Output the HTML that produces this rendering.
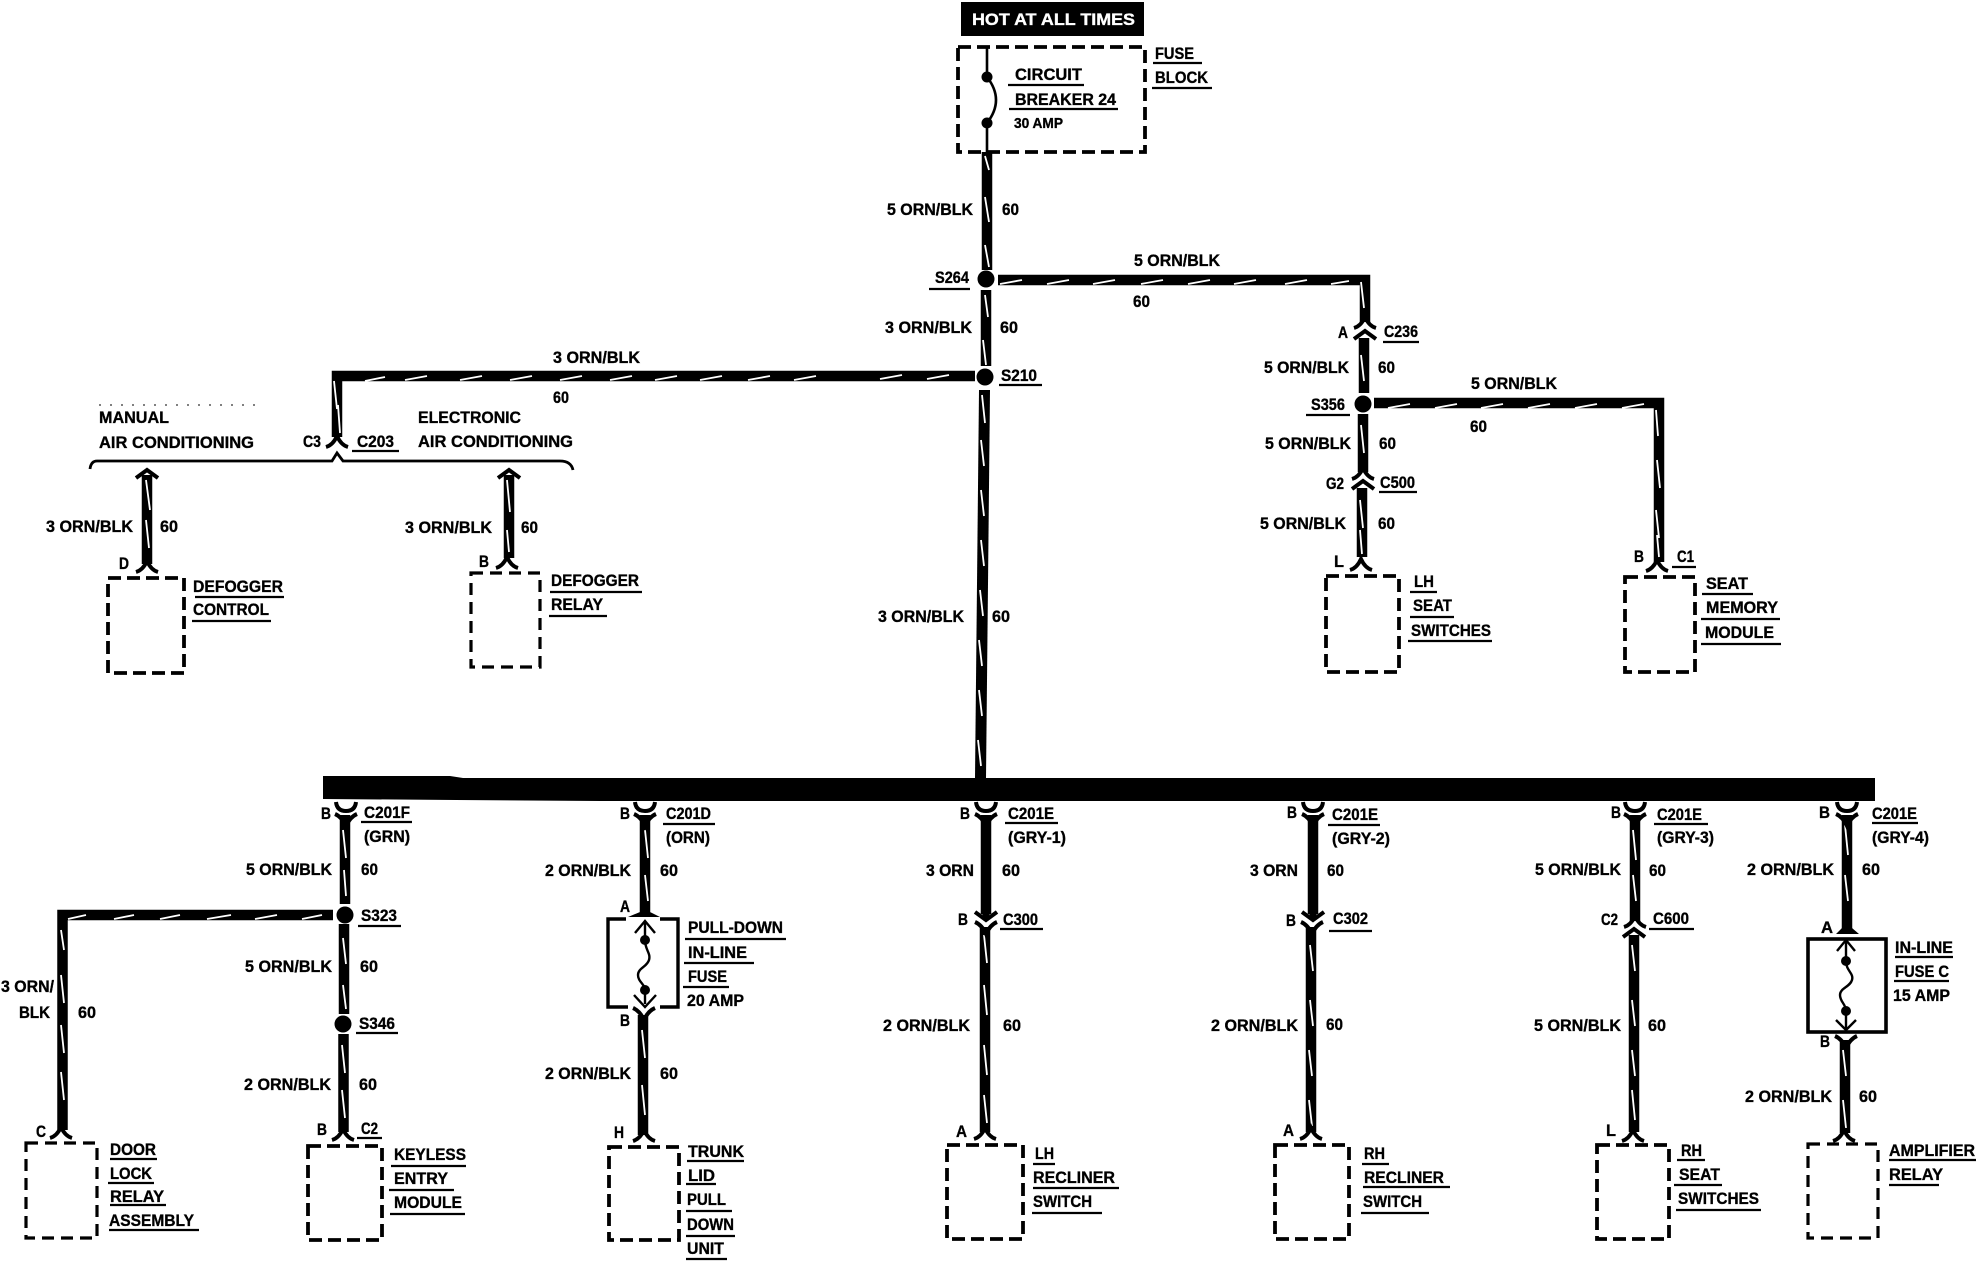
<!DOCTYPE html>
<html><head><meta charset="utf-8"><title>Wiring diagram</title>
<style>
html,body{margin:0;padding:0;background:#fff}
svg{display:block}
text{font-family:"Liberation Sans",sans-serif;font-weight:bold;font-size:17px;fill:#000;stroke:#000;stroke-width:.35}
.w{fill:none;stroke:#000;stroke-width:10.500}
.s{fill:none;stroke:#fff;stroke-width:1.800}
.u{fill:none;stroke:#000;stroke-width:2.200}
.d{fill:none;stroke:#000;stroke-width:3.800;stroke-dasharray:13 6}
.dt{fill:none;stroke:#000;stroke-width:3.200;stroke-dasharray:12 7}
.c{fill:none;stroke:#000;stroke-width:4}
.f{fill:#000}
</style></head><body>
<svg width="1976" height="1280" viewBox="0 0 1976 1280" xmlns="http://www.w3.org/2000/svg">
<defs>
<path id="fd" class="c" d="M-11 0Q-4-2 0-11Q4-2 11 0"/>
<path id="fv" class="c" d="M-11-4Q-4-1 0 8Q4-1 11-4"/>
<path id="cup" class="c" d="M-10 0Q-9 9 0 9Q9 9 10 0"/>
<path id="au" class="c" d="M-11 8L0 0L11 8"/>
<path id="ad" class="c" d="M-11-8L0 0L11-8"/>
</defs>

<!-- top -->
<rect x="961" y="2" width="183" height="34" class="f"/>
<text x="972" y="25" textLength="163" lengthAdjust="spacingAndGlyphs" style="fill:#fff;stroke:#fff">HOT AT ALL TIMES</text>
<rect x="958" y="47" width="187" height="105" class="d"/>
<path class="c" style="stroke-width:2.600" d="M987 47V77Q1005 100 987 123V152"/>
<circle cx="987" cy="77" r="5.500"/><circle cx="987" cy="123" r="5.500"/>

<!-- wires -->
<path class="w" d="M987 152V270M986 290V366"/>
<path class="w" d="M998 280H1365V322M1364 338V393"/>
<path class="w" d="M975 376H337V437"/>
<path class="w" d="M1374 403H1659V562"/>
<path class="w" d="M1363 414V472M1362 488V557"/>
<polygon class="f" points="979,390 990,390 986,778 975,778"/>
<path class="w" d="M147 475V564M509 475V558"/>
<path class="w" d="M345 815V904M333 915H62.500V1130M344 924V1014M343.500 1034V1132"/>
<path class="w" d="M645 815V912M643 1015V1135"/>
<path class="w" d="M986 815V914M985 927V1132"/>
<path class="w" d="M1313 815V914M1311 927V1132"/>
<path class="w" d="M1635 815V921M1634 935V1132"/>
<path class="w" d="M1847 815V930M1845 1040V1133"/>

<!-- slashes -->
<path class="s" d="M985 156l4 14M985 197l4 25M985 245l4 22M985 295l3 22M983 340l3 25M982 395l3 28M981 440l3 26M981 490l3 26M981 540l3 26M980 590l3 26M979 640l3 26M979 690l3 26M978 740l3 26"/>
<path class="s" d="M1000 284l22-4M1047 284l22-4M1093 284l22-4M1141 284l22-4M1188 284l22-4M1234 284l22-4M1285 284l22-4M1331 284l18-3"/>
<path class="s" d="M880 379l22-4M927 379l22-4M794 380l22-4M748 380l22-4M700 380l22-4M655 380l22-4M610 380l22-4M560 380l22-4M510 380l22-4M460 380l22-4M405 380l22-4M365 381l20-4"/>
<path class="s" d="M334 381l3 28M338 405l2 28M146 480l4 30M146 520l3 28M507 480l3 32M507 530l2 22"/>
<path class="s" d="M1361 282l3 26M1361 355l3 26M1361 425l3 28M1360 500l3 28M1360 530l2 24"/>
<path class="s" d="M1388 408l22-4M1435 408l22-4M1481 408l22-4M1528 408l22-4M1575 408l22-4M1622 408l22-4"/>
<path class="s" d="M1656 410l2 26M1657 460l3 28M1656 510l3 28M1657 535l2 22"/>
<path class="s" d="M343 830l3 28M344 870l2 26M343 938l3 26M343 985l3 24M342 1045l3 28M342 1090l3 28"/>
<path class="s" d="M68 919l18-4M114 919l20-4M160 919l20-4M207 919l24-4M255 919l22-4M302 919l20-4"/>
<path class="s" d="M61 930l3 20M61 975l3 28M61 1025l3 28M61 1072l3 28"/>
<path class="s" d="M645 830l3 28M645 875l3 26M642 1030l3 28M642 1085l3 30"/>
<path class="s" d="M984 935l3 28M984 985l3 30M984 1045l3 30M984 1095l3 28"/>
<path class="s" d="M1310 945l3 26M1310 1000l3 26M1309 1050l3 26M1309 1100l3 26"/>
<path class="s" d="M1633 830l3 30M1633 875l3 26M1632 945l3 26M1632 1000l3 26M1632 1050l3 26M1632 1090l3 30"/>
<path class="s" d="M1845 825l3 30M1845 875l3 26M1843 1050l3 26M1843 1100l3 28"/>

<!-- specks -->
<path d="M99 405H260" fill="none" stroke="#000" stroke-width="1" stroke-dasharray="2 9"/>

<!-- splices -->
<circle cx="986" cy="279" r="8.500"/><circle cx="985" cy="377" r="8.500"/><circle cx="1363" cy="404" r="8.500"/>
<circle cx="345" cy="915" r="8.500"/><circle cx="343" cy="1024" r="8.500"/>

<!-- bus -->
<polygon class="f" points="323,776 450,776 463,778 1875,778 1875,801 600,801 456,800 323,799"/>

<!-- bracket -->
<path class="c" style="stroke-width:2.800" d="M90 469Q91 461 97 461H332L337 453L343 461H560Q571 461 573 470"/>

<!-- forks: AC -->
<use href="#fd" x="337" y="447"/>
<use href="#au" x="147" y="470"/><use href="#fd" x="147" y="572"/>
<use href="#au" x="509" y="470"/><use href="#fd" x="507" y="568"/>
<!-- right -->
<use href="#fd" x="1365" y="328"/><use href="#au" x="1365" y="331"/>
<use href="#fd" x="1363" y="479"/><use href="#au" x="1363" y="481"/>
<use href="#fd" x="1361" y="570"/><use href="#fd" x="1657" y="571"/>
<!-- bottom terminals -->
<use href="#fd" x="61" y="1138"/><use href="#fd" x="343" y="1140"/><use href="#fd" x="644" y="1141"/>
<use href="#fd" x="985" y="1139"/><use href="#fd" x="1311" y="1139"/><use href="#fd" x="1633" y="1141"/><use href="#fd" x="1844" y="1141"/>
<!-- bus drops -->
<use href="#cup" x="346" y="802"/><use href="#fv" x="346" y="818"/>
<use href="#cup" x="645" y="802"/><use href="#fv" x="645" y="818"/>
<use href="#cup" x="986" y="802"/><use href="#fv" x="986" y="818"/>
<use href="#cup" x="1313" y="802"/><use href="#fv" x="1313" y="818"/>
<use href="#cup" x="1635" y="802"/><use href="#fv" x="1635" y="818"/>
<use href="#cup" x="1847" y="802"/><use href="#fv" x="1847" y="818"/>
<!-- inline connectors -->
<use href="#ad" x="986" y="920"/><use href="#fv" x="986" y="926"/>
<polygon class="f" points="981,912 991,912 986,921"/>
<use href="#ad" x="1313" y="920"/><use href="#fv" x="1312" y="926"/>
<polygon class="f" points="1308,912 1318,912 1313,921"/>
<use href="#fd" x="1635" y="927"/><use href="#au" x="1634" y="929"/>

<!-- pull-down fuse -->
<path class="c" style="stroke-width:3.400" d="M626 919H608V1007H628M660 919H678V1007H660"/>
<polygon class="f" points="640,905 650,905 650,912 660,917 628,917 640,912"/>
<path class="c" style="stroke-width:2.400" d="M635 933L645 921L655 933M645 921V940C645 950 651 953 649 960C647 967 638 968 638 975C638 982 645 984 645 990V1004M634 995L645 1007L656 995"/>
<circle cx="645" cy="940" r="5"/><circle cx="645" cy="990" r="5"/>
<use href="#fv" x="644" y="1012"/>

<!-- inline fuse c -->
<rect x="1808" y="939" width="78" height="93" fill="none" stroke="#000" stroke-width="3.600"/>
<polygon class="f" points="1842,925 1852,925 1852,928 1859,934 1836,934 1842,928"/>
<path class="c" style="stroke-width:2.400" d="M1837 951L1846 940L1855 951M1846 940V961C1846 971 1854 973 1852 980C1850 987 1840 988 1840 995C1840 1002 1846 1004 1846 1011V1030M1836 1020L1846 1030L1856 1020"/>
<circle cx="1846" cy="961" r="5"/><circle cx="1846" cy="1011" r="5"/>
<use href="#fv" x="1846" y="1040"/>

<!-- boxes -->
<rect x="108" y="578" width="76" height="95" class="d"/>
<rect x="471" y="573" width="69" height="94" class="dt"/>
<rect x="1326" y="576" width="73" height="96" class="d"/>
<rect x="1625" y="577" width="70" height="95" class="d"/>
<rect x="26" y="1143" width="71" height="95" class="dt"/>
<rect x="308" y="1146" width="74" height="94" class="d"/>
<rect x="609" y="1147" width="70" height="93" class="d"/>
<rect x="947" y="1145" width="76" height="94" class="d"/>
<rect x="1275" y="1145" width="74" height="94" class="d"/>
<rect x="1597" y="1145" width="72" height="94" class="d"/>
<rect x="1808" y="1144" width="70" height="94" class="dt"/>

<!-- underlines -->
<path class="u" d="M1008 85H1084M1009 109H1118M1153 63H1202M1152 88H1212M929 289H970M999 385H1042M352 451H399M195 597H284M192 621H271M550 592H642M549 616H607M1383 342H1419M1306 415H1350M1379 492H1417M1672 567H1696M1702 594H1753M1701 619H1780M1701 644H1781M1410 592H1437M1410 617H1454M1408 641H1492"/>
<path class="u" d="M361 822H412M358 926H401M356 1033H398M357 1138H382M110 1159H157M108 1183H154M110 1205H166M109 1230H199M391 1166H466M389 1190H454M390 1214H465"/>
<path class="u" d="M663 824H715M685 939H786M684 963H754M683 987H729M687 1161H744M686 1184H716M686 1211H732M686 1236H735M686 1259H727"/>
<path class="u" d="M1005 823H1058M1000 929H1043M1033 1164H1055M1033 1188H1119M1032 1213H1102M1328 825H1380M1329 931H1372M1362 1164H1389M1363 1187H1450M1361 1213H1429"/>
<path class="u" d="M1654 824H1708M1649 929H1694M1677 1160H1705M1674 1185H1722M1676 1210H1761M1872 823H1918M1895 957H1953M1894 981H1949M1889 1160H1976M1889 1185H1939"/>

<!-- labels top -->
<text x="1015" y="80" textLength="67" lengthAdjust="spacingAndGlyphs">CIRCUIT</text>
<text x="1015" y="105" textLength="101" lengthAdjust="spacingAndGlyphs">BREAKER 24</text>
<text x="1014" y="128" textLength="49" lengthAdjust="spacingAndGlyphs" style="font-size:15px">30 AMP</text>
<text x="1155" y="59" textLength="39" lengthAdjust="spacingAndGlyphs">FUSE</text>
<text x="1155" y="83" textLength="53" lengthAdjust="spacingAndGlyphs">BLOCK</text>
<text x="887" y="215" textLength="86" lengthAdjust="spacingAndGlyphs">5 ORN/BLK</text>
<text x="1002" y="215" textLength="17" lengthAdjust="spacingAndGlyphs">60</text>
<text x="935" y="283" textLength="34" lengthAdjust="spacingAndGlyphs">S264</text>
<text x="1134" y="266" textLength="86" lengthAdjust="spacingAndGlyphs">5 ORN/BLK</text>
<text x="1133" y="307" textLength="17" lengthAdjust="spacingAndGlyphs">60</text>
<text x="885" y="333" textLength="87" lengthAdjust="spacingAndGlyphs">3 ORN/BLK</text>
<text x="1000" y="333" textLength="18" lengthAdjust="spacingAndGlyphs">60</text>
<text x="1001" y="381" textLength="36" lengthAdjust="spacingAndGlyphs">S210</text>
<text x="553" y="363" textLength="87" lengthAdjust="spacingAndGlyphs">3 ORN/BLK</text>
<text x="553" y="403" textLength="16" lengthAdjust="spacingAndGlyphs">60</text>
<text x="878" y="622" textLength="86" lengthAdjust="spacingAndGlyphs">3 ORN/BLK</text>
<text x="992" y="622" textLength="18" lengthAdjust="spacingAndGlyphs">60</text>

<!-- labels AC -->
<text x="99" y="423" textLength="70" lengthAdjust="spacingAndGlyphs">MANUAL</text>
<text x="99" y="448" textLength="155" lengthAdjust="spacingAndGlyphs">AIR CONDITIONING</text>
<text x="303" y="447" textLength="18" lengthAdjust="spacingAndGlyphs">C3</text>
<text x="357" y="447" textLength="37" lengthAdjust="spacingAndGlyphs">C203</text>
<text x="418" y="423" textLength="103" lengthAdjust="spacingAndGlyphs">ELECTRONIC</text>
<text x="418" y="447" textLength="155" lengthAdjust="spacingAndGlyphs">AIR CONDITIONING</text>
<text x="46" y="532" textLength="87" lengthAdjust="spacingAndGlyphs">3 ORN/BLK</text>
<text x="160" y="532" textLength="18" lengthAdjust="spacingAndGlyphs">60</text>
<text x="119" y="569" textLength="10" lengthAdjust="spacingAndGlyphs">D</text>
<text x="193" y="592" textLength="90" lengthAdjust="spacingAndGlyphs">DEFOGGER</text>
<text x="193" y="615" textLength="76" lengthAdjust="spacingAndGlyphs">CONTROL</text>
<text x="405" y="533" textLength="87" lengthAdjust="spacingAndGlyphs">3 ORN/BLK</text>
<text x="521" y="533" textLength="17" lengthAdjust="spacingAndGlyphs">60</text>
<text x="479" y="567" textLength="10" lengthAdjust="spacingAndGlyphs">B</text>
<text x="551" y="586" textLength="88" lengthAdjust="spacingAndGlyphs">DEFOGGER</text>
<text x="551" y="610" textLength="52" lengthAdjust="spacingAndGlyphs">RELAY</text>

<!-- labels right -->
<text x="1338" y="338" textLength="10" lengthAdjust="spacingAndGlyphs">A</text>
<text x="1384" y="337" textLength="34" lengthAdjust="spacingAndGlyphs">C236</text>
<text x="1264" y="373" textLength="85" lengthAdjust="spacingAndGlyphs">5 ORN/BLK</text>
<text x="1378" y="373" textLength="17" lengthAdjust="spacingAndGlyphs">60</text>
<text x="1311" y="410" textLength="34" lengthAdjust="spacingAndGlyphs">S356</text>
<text x="1471" y="389" textLength="86" lengthAdjust="spacingAndGlyphs">5 ORN/BLK</text>
<text x="1470" y="432" textLength="17" lengthAdjust="spacingAndGlyphs">60</text>
<text x="1265" y="449" textLength="86" lengthAdjust="spacingAndGlyphs">5 ORN/BLK</text>
<text x="1379" y="449" textLength="17" lengthAdjust="spacingAndGlyphs">60</text>
<text x="1326" y="489" textLength="18" lengthAdjust="spacingAndGlyphs">G2</text>
<text x="1380" y="488" textLength="35" lengthAdjust="spacingAndGlyphs">C500</text>
<text x="1260" y="529" textLength="86" lengthAdjust="spacingAndGlyphs">5 ORN/BLK</text>
<text x="1378" y="529" textLength="17" lengthAdjust="spacingAndGlyphs">60</text>
<text x="1334" y="567" textLength="10" lengthAdjust="spacingAndGlyphs">L</text>
<text x="1634" y="562" textLength="10" lengthAdjust="spacingAndGlyphs">B</text>
<text x="1677" y="562" textLength="17" lengthAdjust="spacingAndGlyphs">C1</text>
<text x="1414" y="587" textLength="20" lengthAdjust="spacingAndGlyphs">LH</text>
<text x="1413" y="611" textLength="39" lengthAdjust="spacingAndGlyphs">SEAT</text>
<text x="1411" y="636" textLength="80" lengthAdjust="spacingAndGlyphs">SWITCHES</text>
<text x="1706" y="589" textLength="42" lengthAdjust="spacingAndGlyphs">SEAT</text>
<text x="1706" y="613" textLength="72" lengthAdjust="spacingAndGlyphs">MEMORY</text>
<text x="1705" y="638" textLength="69" lengthAdjust="spacingAndGlyphs">MODULE</text>

<!-- labels col 1 -->
<text x="321" y="819" textLength="10" lengthAdjust="spacingAndGlyphs">B</text>
<text x="364" y="818" textLength="46" lengthAdjust="spacingAndGlyphs">C201F</text>
<text x="364" y="842" textLength="46" lengthAdjust="spacingAndGlyphs">(GRN)</text>
<text x="246" y="875" textLength="86" lengthAdjust="spacingAndGlyphs">5 ORN/BLK</text>
<text x="361" y="875" textLength="17" lengthAdjust="spacingAndGlyphs">60</text>
<text x="361" y="921" textLength="36" lengthAdjust="spacingAndGlyphs">S323</text>
<text x="1" y="992" textLength="53" lengthAdjust="spacingAndGlyphs">3 ORN/</text>
<text x="19" y="1018" textLength="31" lengthAdjust="spacingAndGlyphs">BLK</text>
<text x="78" y="1018" textLength="18" lengthAdjust="spacingAndGlyphs">60</text>
<text x="245" y="972" textLength="87" lengthAdjust="spacingAndGlyphs">5 ORN/BLK</text>
<text x="360" y="972" textLength="18" lengthAdjust="spacingAndGlyphs">60</text>
<text x="359" y="1029" textLength="36" lengthAdjust="spacingAndGlyphs">S346</text>
<text x="244" y="1090" textLength="87" lengthAdjust="spacingAndGlyphs">2 ORN/BLK</text>
<text x="359" y="1090" textLength="18" lengthAdjust="spacingAndGlyphs">60</text>
<text x="36" y="1137" textLength="10" lengthAdjust="spacingAndGlyphs">C</text>
<text x="317" y="1135" textLength="10" lengthAdjust="spacingAndGlyphs">B</text>
<text x="361" y="1134" textLength="17" lengthAdjust="spacingAndGlyphs">C2</text>
<text x="110" y="1155" textLength="46" lengthAdjust="spacingAndGlyphs">DOOR</text>
<text x="110" y="1179" textLength="42" lengthAdjust="spacingAndGlyphs">LOCK</text>
<text x="110" y="1202" textLength="54" lengthAdjust="spacingAndGlyphs">RELAY</text>
<text x="109" y="1226" textLength="85" lengthAdjust="spacingAndGlyphs">ASSEMBLY</text>
<text x="394" y="1160" textLength="72" lengthAdjust="spacingAndGlyphs">KEYLESS</text>
<text x="394" y="1184" textLength="54" lengthAdjust="spacingAndGlyphs">ENTRY</text>
<text x="394" y="1208" textLength="68" lengthAdjust="spacingAndGlyphs">MODULE</text>

<!-- labels col 2 -->
<text x="620" y="819" textLength="10" lengthAdjust="spacingAndGlyphs">B</text>
<text x="666" y="819" textLength="45" lengthAdjust="spacingAndGlyphs">C201D</text>
<text x="666" y="843" textLength="44" lengthAdjust="spacingAndGlyphs">(ORN)</text>
<text x="545" y="876" textLength="86" lengthAdjust="spacingAndGlyphs">2 ORN/BLK</text>
<text x="660" y="876" textLength="18" lengthAdjust="spacingAndGlyphs">60</text>
<text x="620" y="912" textLength="10" lengthAdjust="spacingAndGlyphs">A</text>
<text x="620" y="1026" textLength="10" lengthAdjust="spacingAndGlyphs">B</text>
<text x="545" y="1079" textLength="86" lengthAdjust="spacingAndGlyphs">2 ORN/BLK</text>
<text x="660" y="1079" textLength="18" lengthAdjust="spacingAndGlyphs">60</text>
<text x="614" y="1138" textLength="10" lengthAdjust="spacingAndGlyphs">H</text>
<text x="688" y="933" textLength="95" lengthAdjust="spacingAndGlyphs">PULL-DOWN</text>
<text x="688" y="958" textLength="59" lengthAdjust="spacingAndGlyphs">IN-LINE</text>
<text x="688" y="982" textLength="39" lengthAdjust="spacingAndGlyphs">FUSE</text>
<text x="687" y="1006" textLength="57" lengthAdjust="spacingAndGlyphs">20 AMP</text>
<text x="688" y="1157" textLength="56" lengthAdjust="spacingAndGlyphs">TRUNK</text>
<text x="688" y="1181" textLength="27" lengthAdjust="spacingAndGlyphs">LID</text>
<text x="687" y="1205" textLength="39" lengthAdjust="spacingAndGlyphs">PULL</text>
<text x="687" y="1230" textLength="47" lengthAdjust="spacingAndGlyphs">DOWN</text>
<text x="687" y="1254" textLength="37" lengthAdjust="spacingAndGlyphs">UNIT</text>

<!-- labels col 3 -->
<text x="960" y="819" textLength="10" lengthAdjust="spacingAndGlyphs">B</text>
<text x="1008" y="819" textLength="46" lengthAdjust="spacingAndGlyphs">C201E</text>
<text x="1008" y="843" textLength="58" lengthAdjust="spacingAndGlyphs">(GRY-1)</text>
<text x="926" y="876" textLength="48" lengthAdjust="spacingAndGlyphs">3 ORN</text>
<text x="1002" y="876" textLength="18" lengthAdjust="spacingAndGlyphs">60</text>
<text x="958" y="925" textLength="10" lengthAdjust="spacingAndGlyphs">B</text>
<text x="1003" y="925" textLength="35" lengthAdjust="spacingAndGlyphs">C300</text>
<text x="883" y="1031" textLength="87" lengthAdjust="spacingAndGlyphs">2 ORN/BLK</text>
<text x="1003" y="1031" textLength="18" lengthAdjust="spacingAndGlyphs">60</text>
<text x="956" y="1137" textLength="11" lengthAdjust="spacingAndGlyphs">A</text>
<text x="1035" y="1159" textLength="19" lengthAdjust="spacingAndGlyphs">LH</text>
<text x="1033" y="1183" textLength="82" lengthAdjust="spacingAndGlyphs">RECLINER</text>
<text x="1033" y="1207" textLength="59" lengthAdjust="spacingAndGlyphs">SWITCH</text>

<!-- labels col 4 -->
<text x="1287" y="818" textLength="10" lengthAdjust="spacingAndGlyphs">B</text>
<text x="1332" y="820" textLength="46" lengthAdjust="spacingAndGlyphs">C201E</text>
<text x="1332" y="844" textLength="58" lengthAdjust="spacingAndGlyphs">(GRY-2)</text>
<text x="1250" y="876" textLength="48" lengthAdjust="spacingAndGlyphs">3 ORN</text>
<text x="1327" y="876" textLength="17" lengthAdjust="spacingAndGlyphs">60</text>
<text x="1286" y="926" textLength="10" lengthAdjust="spacingAndGlyphs">B</text>
<text x="1333" y="924" textLength="35" lengthAdjust="spacingAndGlyphs">C302</text>
<text x="1211" y="1031" textLength="87" lengthAdjust="spacingAndGlyphs">2 ORN/BLK</text>
<text x="1326" y="1030" textLength="17" lengthAdjust="spacingAndGlyphs">60</text>
<text x="1283" y="1136" textLength="11" lengthAdjust="spacingAndGlyphs">A</text>
<text x="1364" y="1159" textLength="21" lengthAdjust="spacingAndGlyphs">RH</text>
<text x="1364" y="1183" textLength="80" lengthAdjust="spacingAndGlyphs">RECLINER</text>
<text x="1363" y="1207" textLength="59" lengthAdjust="spacingAndGlyphs">SWITCH</text>

<!-- labels col 5 -->
<text x="1611" y="818" textLength="10" lengthAdjust="spacingAndGlyphs">B</text>
<text x="1657" y="820" textLength="45" lengthAdjust="spacingAndGlyphs">C201E</text>
<text x="1657" y="843" textLength="57" lengthAdjust="spacingAndGlyphs">(GRY-3)</text>
<text x="1535" y="875" textLength="86" lengthAdjust="spacingAndGlyphs">5 ORN/BLK</text>
<text x="1649" y="876" textLength="17" lengthAdjust="spacingAndGlyphs">60</text>
<text x="1601" y="925" textLength="17" lengthAdjust="spacingAndGlyphs">C2</text>
<text x="1653" y="924" textLength="36" lengthAdjust="spacingAndGlyphs">C600</text>
<text x="1534" y="1031" textLength="87" lengthAdjust="spacingAndGlyphs">5 ORN/BLK</text>
<text x="1648" y="1031" textLength="18" lengthAdjust="spacingAndGlyphs">60</text>
<text x="1606" y="1136" textLength="10" lengthAdjust="spacingAndGlyphs">L</text>
<text x="1681" y="1156" textLength="21" lengthAdjust="spacingAndGlyphs">RH</text>
<text x="1679" y="1180" textLength="41" lengthAdjust="spacingAndGlyphs">SEAT</text>
<text x="1678" y="1204" textLength="81" lengthAdjust="spacingAndGlyphs">SWITCHES</text>

<!-- labels col 6 -->
<text x="1819" y="818" textLength="11" lengthAdjust="spacingAndGlyphs">B</text>
<text x="1872" y="819" textLength="45" lengthAdjust="spacingAndGlyphs">C201E</text>
<text x="1872" y="843" textLength="57" lengthAdjust="spacingAndGlyphs">(GRY-4)</text>
<text x="1747" y="875" textLength="87" lengthAdjust="spacingAndGlyphs">2 ORN/BLK</text>
<text x="1862" y="875" textLength="18" lengthAdjust="spacingAndGlyphs">60</text>
<text x="1821" y="933" textLength="12" lengthAdjust="spacingAndGlyphs">A</text>
<text x="1820" y="1047" textLength="10" lengthAdjust="spacingAndGlyphs">B</text>
<text x="1745" y="1102" textLength="87" lengthAdjust="spacingAndGlyphs">2 ORN/BLK</text>
<text x="1859" y="1102" textLength="18" lengthAdjust="spacingAndGlyphs">60</text>
<text x="1895" y="953" textLength="58" lengthAdjust="spacingAndGlyphs">IN-LINE</text>
<text x="1895" y="977" textLength="54" lengthAdjust="spacingAndGlyphs">FUSE C</text>
<text x="1893" y="1001" textLength="57" lengthAdjust="spacingAndGlyphs">15 AMP</text>
<text x="1889" y="1156" textLength="86" lengthAdjust="spacingAndGlyphs">AMPLIFIER</text>
<text x="1889" y="1180" textLength="54" lengthAdjust="spacingAndGlyphs">RELAY</text>
</svg>
</body></html>
